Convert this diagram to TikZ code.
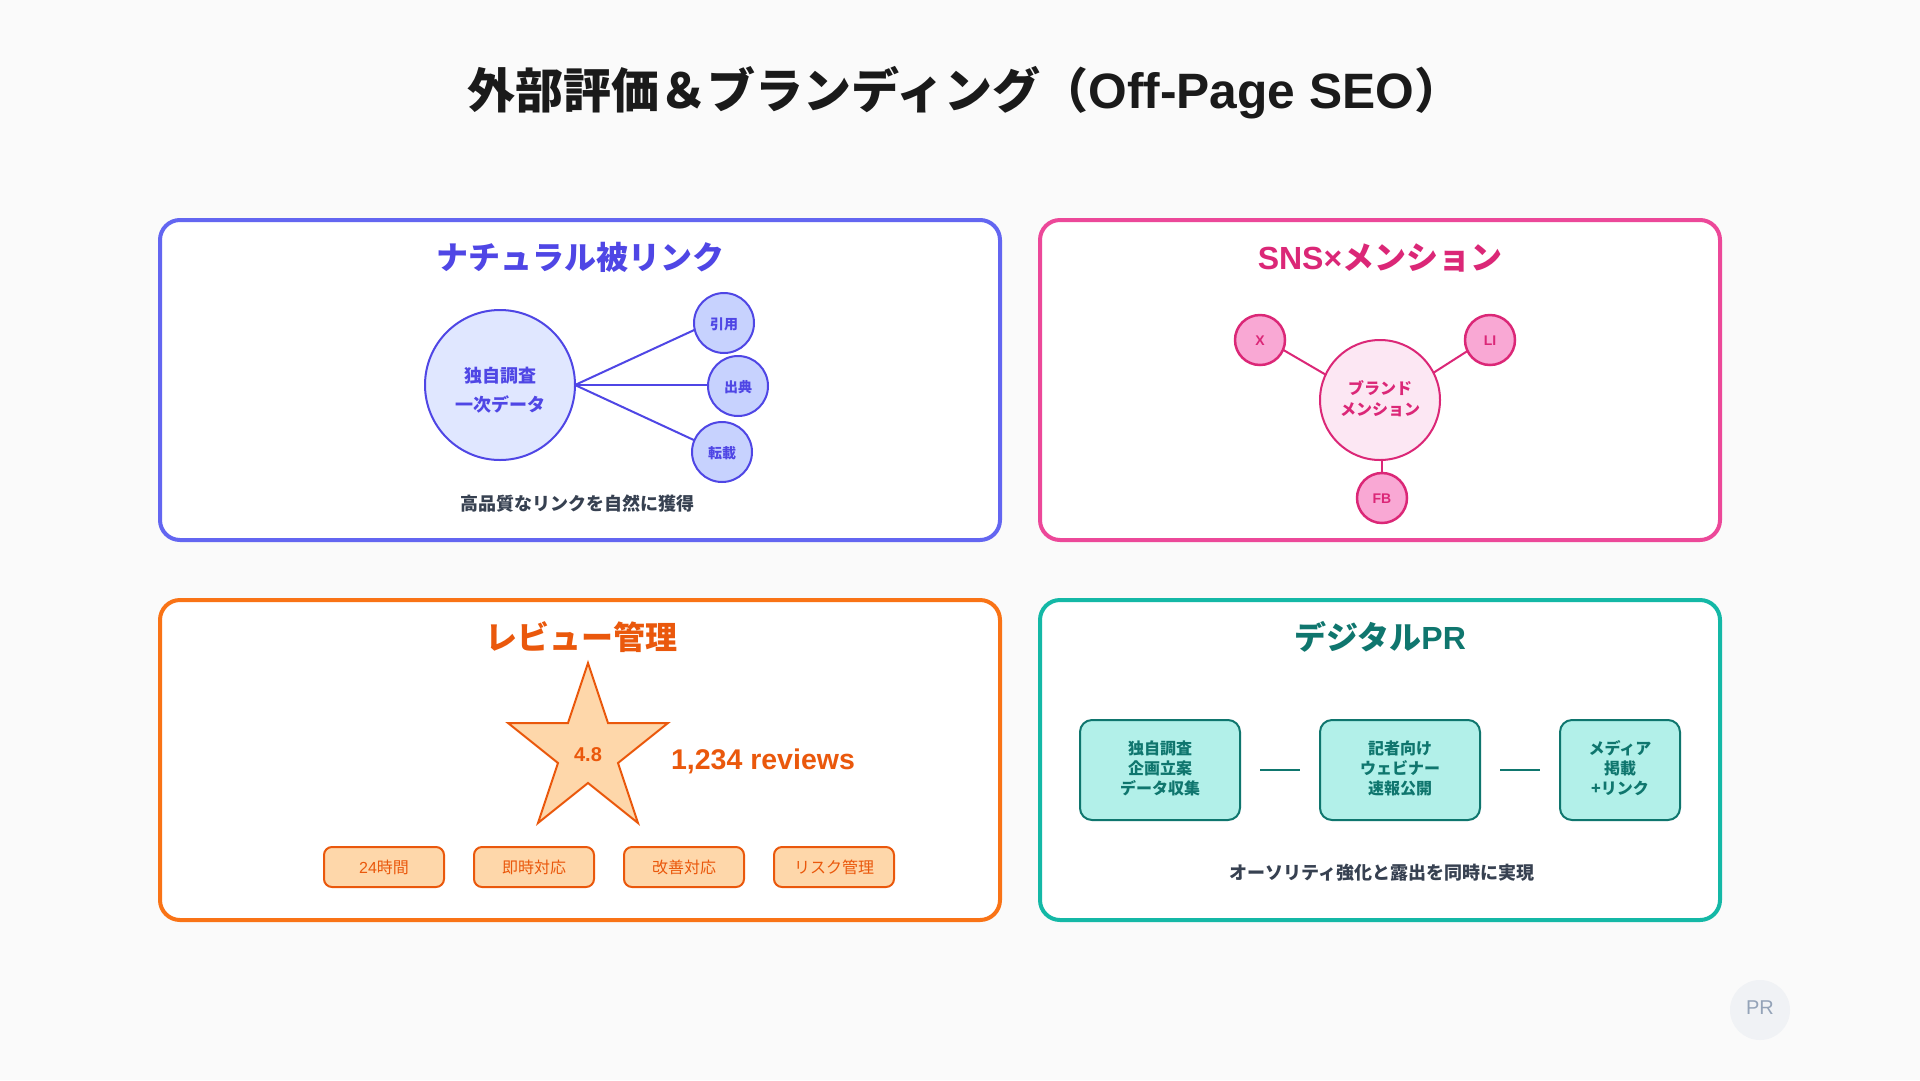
\documentclass[tikz,border=0pt]{standalone}
\usepackage{fontspec}
\setmainfont{Liberation Sans}
\newfontfamily\cjk{Noto Sans CJK JP}
\definecolor{bgc}{HTML}{FAFAFA}
\definecolor{inkc}{HTML}{1A1A1A}
\definecolor{capc}{HTML}{374151}
\definecolor{indA}{HTML}{6366F1}
\definecolor{indB}{HTML}{4F46E5}
\definecolor{indC}{HTML}{E0E7FF}
\definecolor{indD}{HTML}{C7D2FE}
\definecolor{pinA}{HTML}{EC4899}
\definecolor{pinB}{HTML}{DB2777}
\definecolor{pinC}{HTML}{FCE7F3}
\definecolor{pinD}{HTML}{F9A8D4}
\definecolor{orgA}{HTML}{F97316}
\definecolor{orgB}{HTML}{EA580C}
\definecolor{orgC}{HTML}{FED7AA}
\definecolor{tealA}{HTML}{14B8A6}
\definecolor{tealB}{HTML}{0F766E}
\definecolor{tealC}{HTML}{B2F0E9}
\definecolor{prbg}{HTML}{F0F2F5}
\definecolor{prtx}{HTML}{94A3B8}
\newcommand{\fs}[2]{\fontsize{#1}{#2}\selectfont}
\tikzset{
  card/.style={draw=#1,line width=4pt,fill=white,rounded corners=20pt,inner sep=0pt,outer sep=0pt},
  lbl/.style={inner sep=0pt,outer sep=0pt},
  mlbl/.style={inner sep=0pt,outer sep=0pt,align=center},
  headt/.style={lbl,font=\fs{32}{38}\bfseries,text height=28.2pt,text depth=3.8pt},
  capt/.style={lbl,text=capc,font=\cjk\fs{18}{22}\bfseries,text height=15.8pt,text depth=2.2pt},
  ring/.style={circle,draw=#1,line width=2pt,inner sep=0pt,outer sep=0pt},
  indnode/.style={ring=indB,fill=indD,minimum size=60pt,text=indB,font=\cjk\fs{14}{16}\bfseries,text height=14.7pt,text depth=1.7pt},
  pinnode/.style={ring=pinB,line width=2.5pt,fill=pinD,minimum size=50pt,text=pinB,font=\fs{14}{16}\bfseries,text height=10pt,text depth=0pt},
  tag/.style={draw=orgB,line width=2pt,fill=orgC,rounded corners=8pt,minimum width=120pt,minimum height=40pt,inner sep=0pt,outer sep=0pt,text=orgB,font=\cjk\fs{16}{20},text height=14.1pt,text depth=1.9pt},
  stepbox/.style={draw=tealB,line width=2pt,fill=tealC,rounded corners=12pt,minimum height=100pt,inner sep=0pt,outer sep=0pt},
  steptext/.style={mlbl,text=tealB,font=\cjk\fs{16}{20}\bfseries},
  link/.style={line width=2pt},
}
\begin{document}
\begin{tikzpicture}[x=1pt,y=-1pt]
\useasboundingbox (0,0) rectangle (1920,1080);
\fill[bgc] (0,0) rectangle (1920,1080);

\node[lbl,text=inkc,font=\fs{48}{56}\bfseries,text height=42.2pt,text depth=5.8pt] (title) at (965,90) {{\cjk 外部評価＆ブランディング（}{\fs{49.7}{56}Off-Page SEO}{\cjk ）}};

% cards
\node[card=indA,minimum width=840pt,minimum height=320pt] (cardA) at (580,380) {};
\node[card=pinA,minimum width=680pt,minimum height=320pt] (cardB) at (1380,380) {};
\node[card=orgA,minimum width=840pt,minimum height=320pt] (cardC) at (580,760) {};
\node[card=tealA,minimum width=680pt,minimum height=320pt] (cardD) at (1380,760) {};

% card A
\node[headt,text=indB,font=\cjk\fs{32}{38}\bfseries] (headA) at (580,257) {ナチュラル被リンク};
\node[ring=indB,fill=indC,minimum size=150pt] (src) at (500,385) {};
\node[mlbl,text=indB,font=\cjk\fs{18}{29}\bfseries] (srcT) at (500,390.5) {独自調査\\一次データ};
\node[indnode] (cite) at (724,323) {引用};
\node[indnode] (refr) at (738,386) {出典};
\node[indnode] (repr) at (722,452) {転載};
\draw[link,indB] (src.east) -- (cite.193);
\draw[link,indB] (src.east) -- (refr.west |- src.east);
\draw[link,indB] (src.east) -- (repr.157);
\node[capt] (capA) at (577,504) {高品質なリンクを自然に獲得};

% card B
\node[headt,text=pinB] (headB) at (1380,257) {SNS×{\cjk メンション}};
\node[ring=pinB,fill=pinC,minimum size=120pt] (brand) at (1380,400) {};
\node[mlbl,text=pinB,font=\cjk\fs{16}{21}\bfseries] (brandT) at (1380,398.5) {ブランド\\メンション};
\node[pinnode] (nx) at (1260,340) {X};
\node[pinnode] (nl) at (1490,340) {LI};
\node[pinnode] (nf) at (1382,498) {FB};
\draw[link,pinB] (nx.337) -- (brand.155);
\draw[link,pinB] (nl.206) -- (brand.27);
\draw[link,pinB] (nf.north) -- (brand.south -| nf.north);

% card C
\node[headt,text=orgB,font=\cjk\fs{32}{38}\bfseries] (headC) at (581,637) {レビュー管理};
\draw[draw=orgB,fill=orgC,line width=2pt,line join=miter]
  (588,663) -- (608,723) -- (668,723) -- (618,763) -- (638,823) -- (588,783)
  -- (538,823) -- (558,763) -- (508,723) -- (568,723) -- cycle;
\node[lbl,text=orgB,font=\fs{20}{24}\bfseries,text height=14.4pt,text depth=0pt] (score) at (588,754) {4.8};
\node[lbl,text=orgB,font=\fs{28.5}{32}\bfseries,text height=20.4pt,text depth=0pt] (revs) at (763,759) {1,234 reviews};
\node[tag] (tagA) at (384,867) {{\fontspec{Liberation Sans}24}時間};
\node[tag] (tagB) at (534,867) {即時対応};
\node[tag] (tagC) at (684,867) {改善対応};
\node[tag] (tagD) at (834,867) {リスク管理};

% card D
\node[headt,text=tealB] (headD) at (1380,637) {{\cjk デジタル}PR};
\node[stepbox,minimum width=160pt] (stepA) at (1160,770) {};
\node[stepbox,minimum width=160pt] (stepB) at (1400,770) {};
\node[stepbox,minimum width=120pt] (stepC) at (1620,770) {};
\node[steptext] (stepAT) at (1160,768.5) {独自調査\\企画立案\\データ収集};
\node[steptext] (stepBT) at (1400,768.5) {記者向け\\ウェビナー\\速報公開};
\node[steptext] (stepCT) at (1620,768.5) {メディア\\掲載\\+リンク};
\coordinate (gapAa) at (1260,770);
\coordinate (gapAb) at (1300,770);
\coordinate (gapBa) at (1500,770);
\coordinate (gapBb) at (1540,770);
\draw[link,tealB] (gapAa) -- (gapAb);
\draw[link,tealB] (gapBa) -- (gapBb);
\node[capt] (capD) at (1382,873) {オーソリティ強化と露出を同時に実現};

% badge
\node[circle,fill=prbg,minimum size=60pt,inner sep=0pt] (badge) at (1760,1010) {};
\node[lbl,text=prtx,font=\fs{20}{24},text height=14.4pt,text depth=0pt] (badgeT) at (1760,1007) {PR};
\end{tikzpicture}
\end{document}
